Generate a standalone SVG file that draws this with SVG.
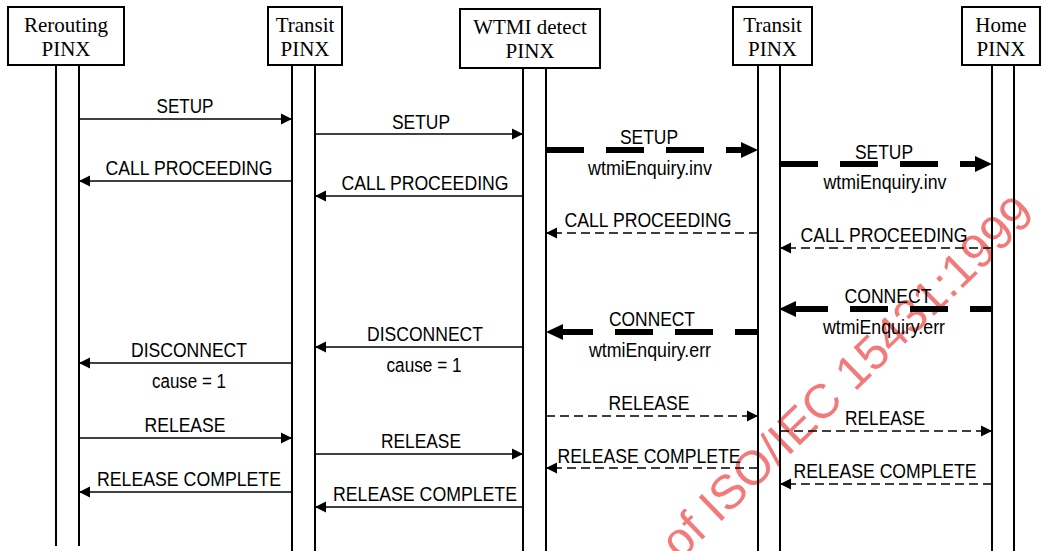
<svg xmlns="http://www.w3.org/2000/svg" width="1042" height="551" viewBox="0 0 1042 551">
<style>
.box{fill:#fff;stroke:#000;stroke-width:2}
.life{stroke:#000;stroke-width:2;fill:none}
.hdr{font-family:"Liberation Serif","Times New Roman",serif;font-size:21px;text-anchor:middle;fill:#000}
.lbl{font-family:"Liberation Sans Narrow","Arial Narrow","Liberation Sans",Arial,sans-serif;font-size:20px;text-anchor:middle;fill:#000}
.m{stroke:#000;stroke-width:1.7;fill:none}
.d{stroke-dasharray:9 5}
.t{stroke-width:6;stroke-dasharray:38 22}
.wm{font-family:"Liberation Sans",Arial,sans-serif;font-size:48px;fill:#f47a7a}
</style>
<defs>
<marker id="ah" markerUnits="userSpaceOnUse" viewBox="0 0 12 12" markerWidth="12" markerHeight="12" refX="11" refY="6" orient="auto"><path d="M0,0.5 L11,6 L0,11.5 z" fill="#000"/></marker>
<marker id="aht" markerUnits="userSpaceOnUse" viewBox="0 0 18 16" markerWidth="18" markerHeight="16" refX="0" refY="8" orient="auto-start-reverse"><path d="M0,0 L17,8 L0,16 z" fill="#000"/></marker>
</defs>
<rect width="1042" height="551" fill="#fff"/>
<text class="wm" transform="translate(680,561) rotate(-44)">of ISO/IEC 15431:1999</text>

<g id="node-rerouting">
<rect class="box" x="8" y="7" width="116" height="58"/>
<text class="hdr" x="66" y="32">Rerouting</text>
<text class="hdr" x="66" y="56">PINX</text>
<path class="life" d="M56,65 V546 M79,65 V546"/>
</g>
<g id="node-transit1">
<rect class="box" x="268" y="7" width="74" height="58"/>
<text class="hdr" x="305" y="32">Transit</text>
<text class="hdr" x="305" y="56">PINX</text>
<path class="life" d="M292,65 V551 M315,65 V551"/>
</g>
<g id="node-wtmi">
<rect class="box" x="460" y="9" width="140" height="59"/>
<text class="hdr" x="530" y="34">WTMI detect</text>
<text class="hdr" x="530" y="58">PINX</text>
<path class="life" d="M523,68 V551 M546,68 V551"/>
</g>
<g id="node-transit2">
<rect class="box" x="733" y="7" width="79" height="58"/>
<text class="hdr" x="772.5" y="32">Transit</text>
<text class="hdr" x="772.5" y="56">PINX</text>
<path class="life" d="M758,65 V551 M780,65 V551"/>
</g>
<g id="node-home">
<rect class="box" x="962" y="7" width="78" height="58"/>
<text class="hdr" x="1001" y="32">Home</text>
<text class="hdr" x="1001" y="56">PINX</text>
<path class="life" d="M992,65 V551 M1014,65 V551"/>
</g>

<g id="connectors">
<g><path class="m" d="M79,119 H292" marker-end="url(#ah)"/><text class="lbl" x="185" y="113" textLength="57" lengthAdjust="spacingAndGlyphs">SETUP</text></g>
<g><path class="m" d="M315,134 H523" marker-end="url(#ah)"/><text class="lbl" x="421" y="128.5" textLength="58" lengthAdjust="spacingAndGlyphs">SETUP</text></g>
<g><path class="m t" d="M546,150 H741" marker-end="url(#aht)"/><text class="lbl" x="649" y="144" textLength="58" lengthAdjust="spacingAndGlyphs">SETUP</text><text class="lbl" x="650" y="175" textLength="124" lengthAdjust="spacingAndGlyphs">wtmiEnquiry.inv</text></g>
<g><path class="m t" d="M780,164 H975" marker-end="url(#aht)"/><text class="lbl" x="884" y="158.5" textLength="58" lengthAdjust="spacingAndGlyphs">SETUP</text><text class="lbl" x="885" y="189" textLength="123" lengthAdjust="spacingAndGlyphs">wtmiEnquiry.inv</text></g>

<g><path class="m" d="M292,181 H79" marker-end="url(#ah)"/><text class="lbl" x="189" y="175" textLength="167" lengthAdjust="spacingAndGlyphs">CALL PROCEEDING</text></g>
<g><path class="m" d="M523,196 H315" marker-end="url(#ah)"/><text class="lbl" x="425" y="190" textLength="167" lengthAdjust="spacingAndGlyphs">CALL PROCEEDING</text></g>
<g><path class="m d" d="M758,233 H546" marker-end="url(#ah)"/><text class="lbl" x="648" y="227" textLength="167" lengthAdjust="spacingAndGlyphs">CALL PROCEEDING</text></g>
<g><path class="m d" d="M992,248 H780" marker-end="url(#ah)"/><text class="lbl" x="884" y="242" textLength="167" lengthAdjust="spacingAndGlyphs">CALL PROCEEDING</text></g>

<g><path class="m t" d="M796,309 H992" stroke-dashoffset="6" marker-start="url(#aht)"/><text class="lbl" x="888" y="303" textLength="87" lengthAdjust="spacingAndGlyphs">CONNECT</text><text class="lbl" x="884" y="334" textLength="122" lengthAdjust="spacingAndGlyphs">wtmiEnquiry.err</text></g>
<g><path class="m t" d="M563,332 H758" stroke-dashoffset="8" marker-start="url(#aht)"/><text class="lbl" x="652" y="326" textLength="86" lengthAdjust="spacingAndGlyphs">CONNECT</text><text class="lbl" x="650" y="357" textLength="122" lengthAdjust="spacingAndGlyphs">wtmiEnquiry.err</text></g>

<g><path class="m" d="M523,347 H315" marker-end="url(#ah)"/><text class="lbl" x="425" y="341" textLength="116" lengthAdjust="spacingAndGlyphs">DISCONNECT</text><text class="lbl" x="424" y="372" textLength="75" lengthAdjust="spacingAndGlyphs">cause = 1</text></g>
<g><path class="m" d="M292,363 H79" marker-end="url(#ah)"/><text class="lbl" x="189" y="357" textLength="116" lengthAdjust="spacingAndGlyphs">DISCONNECT</text><text class="lbl" x="189" y="388" textLength="74" lengthAdjust="spacingAndGlyphs">cause = 1</text></g>

<g><path class="m d" d="M546,416 H758" marker-end="url(#ah)"/><text class="lbl" x="649" y="410" textLength="81" lengthAdjust="spacingAndGlyphs">RELEASE</text></g>
<g><path class="m d" d="M780,431 H992" marker-end="url(#ah)"/><text class="lbl" x="885" y="425" textLength="80" lengthAdjust="spacingAndGlyphs">RELEASE</text></g>
<g><path class="m" d="M79,438 H292" marker-end="url(#ah)"/><text class="lbl" x="185" y="432" textLength="81" lengthAdjust="spacingAndGlyphs">RELEASE</text></g>
<g><path class="m" d="M315,454 H523" marker-end="url(#ah)"/><text class="lbl" x="421" y="448" textLength="80" lengthAdjust="spacingAndGlyphs">RELEASE</text></g>

<g><path class="m d" d="M758,468 H546" marker-end="url(#ah)"/><text class="lbl" x="649" y="463" textLength="183" lengthAdjust="spacingAndGlyphs">RELEASE COMPLETE</text></g>
<g><path class="m d" d="M992,484 H780" marker-end="url(#ah)"/><text class="lbl" x="885" y="478" textLength="183" lengthAdjust="spacingAndGlyphs">RELEASE COMPLETE</text></g>
<g><path class="m" d="M292,492 H79" marker-end="url(#ah)"/><text class="lbl" x="189" y="486" textLength="184" lengthAdjust="spacingAndGlyphs">RELEASE COMPLETE</text></g>
<g><path class="m" d="M523,507 H315" marker-end="url(#ah)"/><text class="lbl" x="425" y="501" textLength="184" lengthAdjust="spacingAndGlyphs">RELEASE COMPLETE</text></g>
</g>
</svg>
